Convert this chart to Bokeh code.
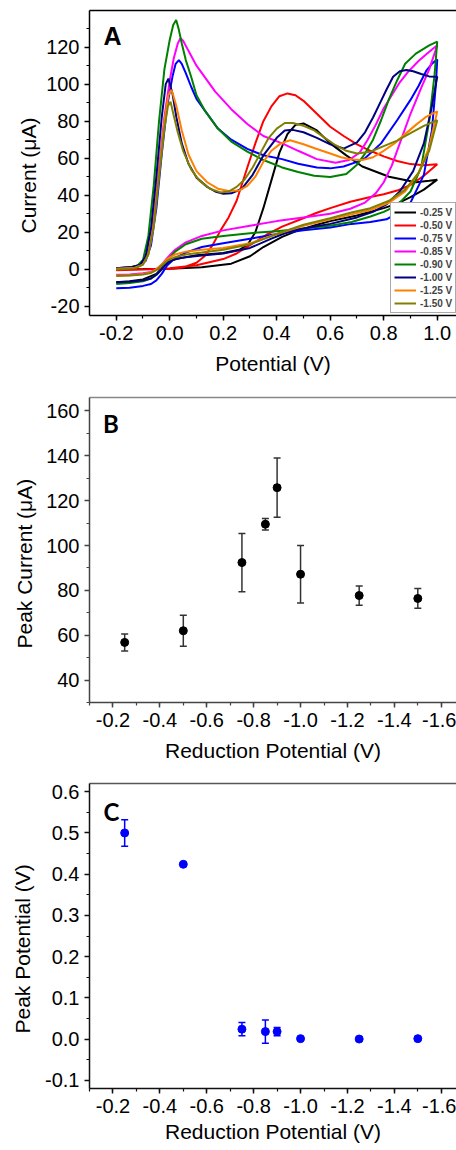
from bokeh.plotting import figure
from bokeh.models import (Range1d, LinearAxis, SingleIntervalTicker, FixedTicker, Legend,
                          LegendItem, Whisker, TeeHead, ColumnDataSource, Label, Title,
                          PrintfTickFormatter)
from bokeh.layouts import column
from bokeh.embed import file_html
from bokeh.resources import INLINE

# ---------------- DATA ----------------
# Panel A: cyclic voltammograms (potential V, current uA); forward branch then return branch
v_025 = [-0.2, -0.1, 0.0, 0.12, 0.23, 0.3, 0.35, 0.42, 0.48, 0.55, 0.6, 0.7, 0.8, 0.85, 0.9, 0.95, 1.0,
         0.97, 0.92, 0.82, 0.72, 0.66, 0.6, 0.55, 0.5, 0.47, 0.44, 0.41, 0.38, 0.35, 0.32, 0.29, 0.26,
         0.2, 0.1, 0.04, 0.0, -0.02, -0.05, -0.1, -0.15, -0.2]
i_025 = [0.0, 0.1, 0.3, 1.1, 3.0, 7.0, 12.0, 17.5, 21.0, 24.0, 26.0, 29.0, 33.0, 35.4, 39.0, 43.0, 48.4,
         47.8, 47.0, 50.0, 55.5, 61.5, 68.0, 75.0, 78.8, 78.0, 73.0, 63.0, 48.0, 33.0, 20.0, 13.0, 10.5,
         8.8, 7.5, 6.0, 4.5, 2.0, -2.5, -5.5, -6.5, -7.0]

v_050 = [-0.2, -0.1, 0.0, 0.1, 0.2, 0.25, 0.3, 0.36, 0.42, 0.49, 0.55, 0.6, 0.675, 0.75, 0.8, 0.85, 0.9, 0.95, 1.0,
         0.95, 0.9, 0.85, 0.8, 0.75, 0.7, 0.65, 0.6, 0.55, 0.5, 0.47, 0.44, 0.41, 0.38, 0.35, 0.32, 0.29,
         0.25, 0.22, 0.19, 0.16, 0.13, 0.1, 0.05, 0.0, -0.1, -0.2]
i_050 = [-0.5, -0.2, 0.5, 2.2, 5.5, 8.5, 13.0, 18.5, 23.0, 27.0, 30.5, 33.0, 36.5, 39.0, 40.5, 42.5, 45.5, 50.5, 56.7,
         56.2, 56.8, 58.5, 61.0, 64.0, 67.5, 72.0, 77.0, 84.0, 91.0, 94.0, 95.0, 93.5, 88.0, 80.0, 68.0, 55.0,
         37.0, 28.0, 21.0, 13.0, 7.0, 3.5, 1.0, 0.3, -0.2, -0.5]

v_075 = [-0.2, -0.15, -0.1, -0.07, -0.05, -0.03, -0.01, 0.02, 0.06, 0.12, 0.2, 0.3, 0.4, 0.5, 0.6, 0.68, 0.75,
         0.81, 0.86, 0.9, 0.95, 0.98, 0.995, 1.0,
         0.98, 0.96, 0.93, 0.9, 0.85, 0.79, 0.73, 0.7, 0.65, 0.6, 0.55, 0.48, 0.42, 0.35, 0.29, 0.23, 0.18,
         0.13, 0.1, 0.08, 0.06, 0.045, 0.034, 0.022, 0.01, -0.01, -0.03, -0.05, -0.07, -0.09, -0.12, -0.2]
i_075 = [-10.3, -10.0, -9.0, -8.0, -6.0, -2.5, 2.0, 6.0, 9.0, 12.0, 14.0, 16.5, 19.0, 21.0, 22.5, 24.5, 25.5,
         27.0, 31.0, 36.0, 51.0, 75.0, 100.0, 113.4,
         111.0, 107.5, 99.0, 91.5, 80.5, 68.0, 60.0, 58.0, 55.5, 54.5, 55.0, 57.0, 59.5, 61.6, 65.0, 70.0, 76.0,
         86.0, 92.0, 98.6, 106.0, 111.0, 113.0, 111.0, 104.0, 88.0, 62.0, 33.0, 13.0, 4.5, 1.5, 0.5]

v_085 = [-0.2, -0.15, -0.1, -0.07, -0.05, -0.03, -0.01, 0.02, 0.06, 0.12, 0.2, 0.3, 0.4, 0.5, 0.6, 0.675, 0.73,
         0.77, 0.8, 0.83, 0.86, 0.9, 0.94, 0.97, 1.0,
         0.97, 0.93, 0.89, 0.86, 0.83, 0.8, 0.77, 0.74, 0.71, 0.67, 0.62, 0.55, 0.48, 0.42, 0.35, 0.29, 0.23,
         0.17, 0.1, 0.07, 0.05, 0.04, 0.03, 0.015, 0.0, -0.02, -0.04, -0.06, -0.08, -0.1, -0.13, -0.2]
i_085 = [-3.0, -2.8, -2.2, -1.5, 0.0, 2.5, 6.0, 10.5, 14.5, 18.0, 21.0, 23.5, 26.0, 28.0, 30.0, 32.7, 36.0,
         41.0, 47.0, 56.0, 68.0, 84.0, 98.0, 108.0, 121.0,
         117.5, 112.5, 106.5, 101.0, 94.0, 87.0, 78.0, 70.0, 63.0, 59.0, 57.5, 59.5, 64.0, 68.0, 72.0, 78.5, 86.5,
         96.0, 110.0, 118.0, 123.5, 124.8, 122.0, 114.0, 102.0, 82.0, 55.0, 28.0, 10.0, 3.5, 1.0, 0.3]

v_090 = [-0.2, -0.15, -0.1, -0.07, -0.05, -0.03, -0.01, 0.02, 0.06, 0.12, 0.2, 0.3, 0.4, 0.5, 0.6, 0.68, 0.75,
         0.8, 0.85, 0.9, 0.94, 0.97, 0.99, 1.0,
         0.97, 0.92, 0.88, 0.85, 0.82, 0.79, 0.76, 0.73, 0.7, 0.66, 0.6, 0.54, 0.48, 0.42, 0.35, 0.29, 0.23,
         0.18, 0.13, 0.1, 0.08, 0.06, 0.045, 0.033, 0.024, 0.013, 0.0, -0.02, -0.04, -0.06, -0.08, -0.1,
         -0.12, -0.15, -0.2]
i_090 = [-8.0, -7.5, -6.5, -5.0, -3.0, 0.0, 4.5, 9.5, 13.5, 16.5, 18.0, 19.5, 20.5, 22.0, 23.5, 25.5, 28.5,
         31.0, 34.5, 42.0, 55.0, 80.0, 105.0, 123.0,
         121.0, 116.5, 111.0, 102.0, 92.0, 80.5, 70.0, 62.5, 56.5, 51.5, 49.8, 50.5, 52.5, 55.0, 59.0, 63.5, 69.0,
         76.0, 86.0, 94.0, 104.0, 113.0, 122.0, 130.0, 134.7, 132.0, 124.0, 108.0, 80.0, 45.0, 18.0, 5.0,
         2.0, 1.0, 0.5]

v_100 = [-0.2, -0.15, -0.1, -0.07, -0.05, -0.03, -0.01, 0.02, 0.06, 0.12, 0.2, 0.3, 0.38, 0.45, 0.5, 0.6, 0.7,
         0.76, 0.81, 0.86, 0.91, 0.95, 0.98, 1.0,
         0.97, 0.94, 0.91, 0.885, 0.86, 0.835, 0.81, 0.79, 0.76, 0.73, 0.7, 0.65, 0.6, 0.55, 0.5, 0.46, 0.43,
         0.4, 0.35, 0.31, 0.27, 0.23, 0.2, 0.17, 0.14, 0.1, 0.07, 0.045, 0.025, 0.01, -0.005, -0.015, -0.03,
         -0.05, -0.07, -0.09, -0.11, -0.14, -0.2]
i_100 = [-7.0, -6.8, -6.0, -5.0, -3.0, 0.0, 3.5, 5.5, 6.5, 7.4, 8.5, 11.5, 16.5, 20.5, 22.0, 24.5, 28.0,
         31.0, 35.0, 42.0, 53.0, 68.0, 88.0, 104.0,
         104.2, 105.5, 107.0, 107.6, 107.0, 104.0, 97.0, 91.0, 82.0, 74.0, 68.5, 65.2, 67.5, 71.0, 74.0, 75.3, 75.0,
         71.0, 61.5, 51.0, 43.5, 41.0, 40.8, 42.0, 44.5, 49.5, 57.0, 68.0, 82.0, 95.0, 103.0, 100.0, 82.0,
         50.0, 22.0, 7.0, 2.5, 1.2, 0.5]

v_125 = [-0.2, -0.15, -0.1, -0.07, -0.05, -0.03, -0.01, 0.02, 0.06, 0.12, 0.2, 0.3, 0.4, 0.5, 0.6, 0.675, 0.75,
         0.82, 0.88, 0.93, 0.97, 1.0,
         0.96, 0.92, 0.88, 0.84, 0.8, 0.76, 0.72, 0.68, 0.64, 0.6, 0.55, 0.5, 0.45, 0.415, 0.38, 0.35, 0.32,
         0.29, 0.26, 0.22, 0.18, 0.14, 0.1, 0.07, 0.045, 0.025, 0.01, 0.005, -0.005, -0.02, -0.04, -0.06,
         -0.08, -0.1, -0.13, -0.2]
i_125 = [-3.4, -3.2, -2.6, -1.8, 0.0, 2.5, 5.5, 8.0, 9.5, 10.5, 11.5, 14.0, 19.0, 23.5, 27.0, 29.5, 32.0,
         36.0, 42.0, 52.0, 66.0, 85.3,
         82.5, 78.0, 73.0, 68.0, 64.0, 60.5, 59.0, 59.3, 60.5, 62.5, 65.0, 67.5, 69.7, 68.0, 64.0, 58.0, 50.0,
         45.0, 42.6, 42.3, 43.5, 47.0, 53.0, 62.0, 75.0, 88.0, 95.5, 96.8, 94.0, 80.0, 52.0, 24.0,
         8.0, 2.5, 0.8, 0.2]

v_150 = [-0.2, -0.15, -0.1, -0.07, -0.05, -0.03, -0.01, 0.02, 0.06, 0.12, 0.2, 0.3, 0.4, 0.5, 0.6, 0.675, 0.75,
         0.82, 0.88, 0.93, 0.97, 1.0,
         0.95, 0.9, 0.85, 0.8, 0.75, 0.7, 0.66, 0.62, 0.58, 0.54, 0.5, 0.46, 0.43, 0.4, 0.37, 0.34, 0.31,
         0.28, 0.25, 0.22, 0.19, 0.15, 0.11, 0.08, 0.05, 0.03, 0.015, 0.003, -0.007, -0.02, -0.04, -0.06,
         -0.08, -0.1, -0.13, -0.2]
i_150 = [-3.6, -3.4, -2.8, -2.0, -0.5, 2.0, 4.5, 6.5, 8.0, 9.0, 10.5, 13.5, 19.0, 24.0, 27.5, 30.5, 33.0,
         37.0, 43.0, 52.0, 64.0, 80.5,
         77.5, 73.5, 69.5, 66.5, 63.5, 62.5, 64.0, 67.0, 71.0, 75.0, 77.5, 79.0, 79.0, 76.0, 71.0, 63.0, 55.0,
         48.5, 44.5, 42.0, 41.5, 43.5, 48.0, 54.0, 64.0, 74.0, 83.0, 90.5, 88.0, 76.0, 50.0, 23.0,
         8.0, 2.5, 0.5, -0.2]

cv_labels = ["-0.25 V", "-0.50 V", "-0.75 V", "-0.85 V", "-0.90 V", "-1.00 V", "-1.25 V", "-1.50 V"]
cv_colors = ["#000000", "#FF0000", "#0000FF", "#FF00FF", "#008000", "#000080", "#FF8000", "#808000"]
cv_v = [v_025, v_050, v_075, v_085, v_090, v_100, v_125, v_150]
cv_i = [i_025, i_050, i_075, i_085, i_090, i_100, i_125, i_150]

# Panels B and C
red_pot = [-0.25, -0.50, -0.75, -0.85, -0.90, -1.00, -1.25, -1.50]
peak_current = [56.8, 62.0, 92.4, 109.5, 125.8, 87.2, 77.7, 76.4]
peak_current_err = [3.8, 6.9, 13.0, 2.6, 13.2, 12.8, 4.3, 4.4]
peak_potential = [0.500, 0.424, 0.024, 0.018, 0.018, 0.001, 0.000, 0.001]
peak_potential_err = [0.032, 0.0, 0.016, 0.028, 0.010, 0.0, 0.0, 0.0]

# ---------------- HELPERS ----------------
FONT = "Liberation Sans"
W = 456


def style_axis(ax, color, ticker, fmt, size="20px"):
    ax.ticker = ticker
    ax.formatter = PrintfTickFormatter(format=fmt)
    ax.axis_line_color = color
    ax.axis_line_width = 1.5
    ax.major_tick_line_color = color
    ax.minor_tick_line_color = color
    ax.major_tick_line_width = 1.5
    ax.minor_tick_line_width = 1.2
    ax.major_tick_in = 0
    ax.major_tick_out = 5
    ax.minor_tick_in = 0
    ax.minor_tick_out = 3
    ax.major_label_text_font = FONT
    ax.major_label_text_font_size = size
    ax.major_label_text_color = "#000000"
    ax.major_label_standoff = 5
    ax.axis_label_text_font = FONT
    ax.axis_label_text_font_size = "21px"
    ax.axis_label_text_font_style = "normal"
    ax.axis_label_text_color = "#000000"


def make_fig(height, xr, yr, top, bottom, top_color):
    p = figure(width=W, height=height, x_range=Range1d(*xr), y_range=Range1d(*yr),
               output_backend="svg", toolbar_location=None,
               min_border_left=88, min_border_right=0,
               min_border_top=top, min_border_bottom=bottom)
    p.outline_line_color = None
    p.xgrid.visible = False
    p.ygrid.visible = False
    p.background_fill_color = "white"
    p.border_fill_color = "white"
    top_axis = LinearAxis(ticker=FixedTicker(ticks=[]), major_label_text_font_size="0px",
                          major_tick_out=0, minor_tick_out=0, major_tick_in=0, minor_tick_in=0,
                          axis_line_width=1.5, axis_line_color=top_color, major_label_standoff=0)
    p.add_layout(top_axis, "above")
    bottom_axis = p.below[0]
    left_axis = p.left[0]
    return p, bottom_axis, left_axis


def frac_pos(rng, frac):
    return rng[0] + frac * (rng[1] - rng[0])


def y_title(p, text, offset, standoff):
    p.add_layout(Title(text=text, align="left", offset=offset, standoff=standoff,
                       text_font=FONT, text_font_size="21px", text_font_style="normal",
                       text_color="#000000"), "left")


def panel_letter(p, xr, yr, fx, fy, text, font, size):
    p.add_layout(Label(x=frac_pos(xr, fx), y=frac_pos(yr, fy), text=text, text_font=font,
                       text_font_size=size, text_font_style="bold", text_align="left",
                       text_baseline="alphabetic", text_color="#000000"))


# ---------------- PANEL A ----------------
xa = (-0.3, 1.072)
ya = (-25.0, 139.8)
pa, bax, lax = make_fig(388, xa, ya, 10, 73, "#000000")
style_axis(bax, "#000000", SingleIntervalTicker(interval=0.2, num_minor_ticks=2), "%.1f")
style_axis(lax, "#000000", SingleIntervalTicker(interval=20, num_minor_ticks=2), "%d")
bax.axis_label = "Potential (V)"
bax.axis_label_standoff = 9
y_title(pa, "Current (μA)", 82, 8)

items = []
for lab, col, vv, ii in zip(cv_labels, cv_colors, cv_v, cv_i):
    r = pa.line(vv, ii, line_color=col, line_width=2)
    items.append(LegendItem(label=lab, renderers=[r]))

leg = Legend(items=items, location=(301, 2), margin=0, padding=3, spacing=1,
             glyph_width=22, glyph_height=12, label_height=12, label_standoff=4,
             label_text_font=FONT, label_text_font_style="bold", label_text_font_size="10px",
             border_line_color="#555555", border_line_width=1.5, background_fill_color="white",
             background_fill_alpha=1.0)
pa.add_layout(leg)

panel_letter(pa, xa, ya, 0.038, 0.918, "A", FONT, "25px")

# ---------------- PANEL B ----------------
xb = (-0.1, -1.665)
yb = (30.0, 166.0)
pb, bbx, lbx = make_fig(382, xb, yb, 9, 68, "#888888")
style_axis(bbx, "#444444", SingleIntervalTicker(interval=0.2, num_minor_ticks=2), "%.1f")
style_axis(lbx, "#444444", SingleIntervalTicker(interval=20, num_minor_ticks=2), "%d")
bbx.axis_label = "Reduction Potential (V)"
bbx.axis_label_standoff = 9
y_title(pb, "Peak Current (μA)", 54, 16)

src_b = ColumnDataSource(dict(x=red_pot, y=peak_current,
                              lo=[a - b for a, b in zip(peak_current, peak_current_err)],
                              up=[a + b for a, b in zip(peak_current, peak_current_err)]))
pb.add_layout(Whisker(source=src_b, base="x", lower="lo", upper="up", line_color="#333333", line_width=1.5,
                      lower_head=TeeHead(size=7, line_color="#333333", line_width=1.5),
                      upper_head=TeeHead(size=7, line_color="#333333", line_width=1.5)))
pb.scatter("x", "y", source=src_b, size=8, marker="circle", fill_color="#000000", line_color="#000000")

panel_letter(pb, xb, yb, 0.037, 0.914, "B", "Lato", "24px")

# ---------------- PANEL C ----------------
xc = (-0.1, -1.665)
yc = (-0.12, 0.62)
pc, bcx, lcx = make_fig(380, xc, yc, 13, 62, "#555555")
style_axis(bcx, "#111111", SingleIntervalTicker(interval=0.2, num_minor_ticks=2), "%.1f")
style_axis(lcx, "#111111", SingleIntervalTicker(interval=0.1, num_minor_ticks=2), "%.1f")
bcx.axis_label = "Reduction Potential (V)"
bcx.axis_label_standoff = 4
y_title(pc, "Peak Potential (V)", 55, 17)

src_c = ColumnDataSource(dict(x=red_pot, y=peak_potential,
                              lo=[a - b for a, b in zip(peak_potential, peak_potential_err)],
                              up=[a + b for a, b in zip(peak_potential, peak_potential_err)]))
pc.add_layout(Whisker(source=src_c, base="x", lower="lo", upper="up", line_color="#0000FF", line_width=1.5,
                      lower_head=TeeHead(size=7, line_color="#0000FF", line_width=1.5),
                      upper_head=TeeHead(size=7, line_color="#0000FF", line_width=1.5)))
pc.scatter("x", "y", source=src_c, size=8, marker="circle", fill_color="#0000FF", line_color="#0000FF")

panel_letter(pc, xc, yc, 0.038, 0.909, "C", "Lato", "24px")

layout = column(pa, pb, pc, spacing=0)
open("out.html", "w").write(file_html(layout, INLINE))
